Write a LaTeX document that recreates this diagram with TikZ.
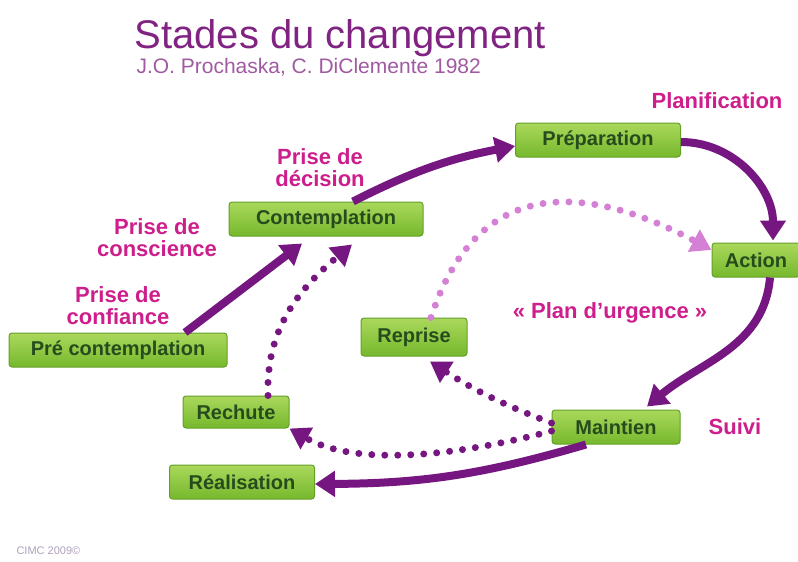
\documentclass[tikz,border=0pt]{standalone}
\usepackage{fontspec}
\setmainfont{Liberation Sans}
\usetikzlibrary{arrows.meta,shapes}
\definecolor{stagegreen}{RGB}{118,184,44}
\definecolor{stagelight}{RGB}{170,216,92}
\definecolor{stageborder}{RGB}{100,160,40}
\definecolor{stagetext}{RGB}{38,76,30}
\definecolor{titlepurple}{RGB}{128,35,130}
\definecolor{labelpink}{RGB}{205,30,140}
\definecolor{arrowpurple}{RGB}{118,22,128}
\definecolor{lightpurple}{RGB}{212,128,212}
\definecolor{footergray}{RGB}{175,160,185}

\begin{document}
\begin{tikzpicture}[
    x=1pt, y=1pt,
    stage/.style={
        rectangle, rounded corners=3pt,
        draw=stageborder, line width=1pt,
        top color=stagelight, bottom color=stagegreen,
        text=stagetext,
        font=\bfseries\fontsize{20}{20}\selectfont,
        minimum height=34pt, inner sep=0pt
    },
    phase/.style={
        text=labelpink,
        font=\bfseries\fontsize{22}{22}\selectfont,
        align=center, inner sep=0pt
    },
    cycle/.style={
        draw=arrowpurple, line width=8pt,
        -{Triangle[length=20pt,width=25pt]}
    },
    relapse/.style={
        draw=arrowpurple, line width=7pt, line cap=round,
        dash pattern=on 0pt off 13pt,
        -{Triangle[length=20pt,width=24pt]}
    },
    backup/.style={relapse, draw=lightpurple}
]
\useasboundingbox (0,0) rectangle (798,-562);

\node[text=titlepurple, font=\fontsize{40}{40}\selectfont, anchor=base west]
    (title) at (131,-48) {Stades du changement};
\node[text=titlepurple!75, font=\fontsize{21}{21}\selectfont, anchor=base west]
    (authors) at (133,-73) {J.O. Prochaska, C. DiClemente 1982};

\node[stage, minimum width=218pt] (precontemp) at (118,-350) {Pré contemplation};
\node[stage, minimum width=194pt] (contemp) at (326,-219) {Contemplation};
\node[stage, minimum width=165pt] (prep) at (598,-140) {Préparation};
\node[stage, minimum width=88pt] (action) at (756,-260) {Action};
\node[stage, minimum width=128pt] (maint) at (616,-427) {Maintien};
\node[stage, minimum width=106pt, minimum height=38pt] (reprise) at (414,-337) {Reprise};
\node[stage, minimum width=106pt, minimum height=32pt] (rechute) at (236,-412) {Rechute};
\node[stage, minimum width=145pt] (realis) at (242,-482) {Réalisation};

\node[phase] (planif) at (717,-101) {Planification};
\node[phase] (decision) at (320,-168) {Prise de\\décision};
\node[phase] (conscience) at (157,-238) {Prise de\\conscience};
\node[phase] (confiance) at (118,-306) {Prise de\\confiance};
\node[phase] (urgence) at (610,-313) {« Plan d’urgence »};
\node[phase] (suivi) at (735,-427) {Suivi};

\node[text=footergray, font=\fontsize{11}{11}\selectfont, anchor=west]
    (footer) at (13,-551) {CIMC 2009©};

\draw[cycle] ([xshift=67pt]precontemp.north) -- ([xshift=-24pt,yshift=-7pt]contemp.south);
\draw[cycle] ([xshift=27pt]contemp.north) to[bend left=8] ([yshift=-6pt]prep.west);
\draw[cycle] ([yshift=-2pt]prep.east) to[out=0,in=90] ([xshift=17pt,yshift=2pt]action.north);
\draw[cycle] ([xshift=14pt]action.south) to[out=-95,in=40] ([xshift=31pt,yshift=3pt]maint.north);
\draw[cycle] ([xshift=-30pt]maint.south) to[bend left=8] ([yshift=-2pt]realis.east);

\draw[relapse] ([yshift=-4pt]maint.west) to[out=195,in=-30,looseness=0.8] (rechute.south east);
\draw[relapse] ([yshift=4pt]maint.west) to[bend left=6] ([xshift=16pt,yshift=-5pt]reprise.south);
\draw[relapse] ([xshift=32pt]rechute.north) to[out=92,in=-140] ([xshift=26pt,yshift=-8pt]contemp.south);
\draw[backup] ([xshift=17pt]reprise.north) to[out=72,in=152,looseness=1.3] ([yshift=10pt]action.west);
\end{tikzpicture}
\end{document}
